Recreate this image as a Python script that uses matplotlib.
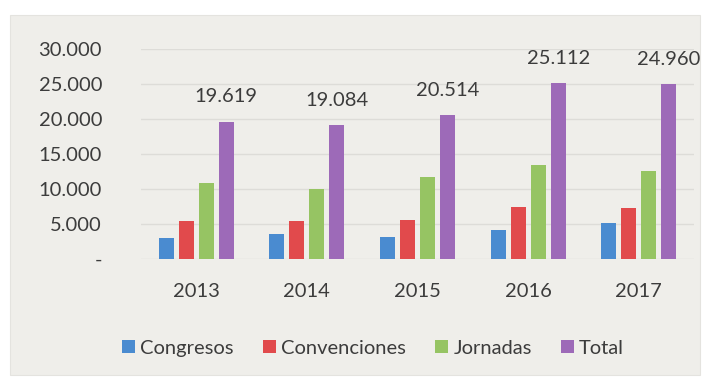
import numpy as np
import matplotlib.pyplot as plt
from matplotlib.patches import Rectangle

years = ['2013', '2014', '2015', '2016', '2017']
congresos = [2960, 3520, 3100, 4140, 5100]
convenciones = [5430, 5430, 5570, 7480, 7240]
jornadas = [10900, 10000, 11760, 13430, 12620]
total = [19619, 19084, 20514, 25112, 24960]
total_labels = ['19.619', '19.084', '20.514', '25.112', '24.960']
yticks = [0, 5000, 10000, 15000, 20000, 25000, 30000]
ytick_labels = ['-', '5.000', '10.000', '15.000', '20.000', '25.000', '30.000']

series = [congresos, convenciones, jornadas, total]
names = ['Congresos', 'Convenciones', 'Jornadas', 'Total']
colors = ['#4a8bd0', '#e14a4c', '#96c463', '#9d6ab8']

plt.rcParams['font.family'] = ['Lato', 'DejaVu Sans']
txt = '#3c3c3c'
bg = '#efeeea'
fs = 14.5

fig = plt.figure(figsize=(7.15, 3.83), dpi=100)
fig.patch.set_facecolor('white')

# panel behind the chart
back = fig.add_axes([0, 0, 1, 1], zorder=0)
back.axis('off')
back.add_patch(Rectangle((10 / 715, 8 / 383), 690 / 715, 360 / 383,
                         facecolor=bg, edgecolor='#e4e3df', lw=0.8))

ax = fig.add_axes([141 / 715, 1 - 259 / 383, 553 / 715, 210 / 383], zorder=1)
ax.patch.set_alpha(0)

x = np.arange(len(years))
w = 0.135
step = 0.181
for i, (vals, name, c) in enumerate(zip(series, names, colors)):
    ax.bar(x + (i - 1.5) * step, vals, width=w, color=c, label=name, zorder=3)

# value labels over the Total bars
for i, lab in enumerate(total_labels):
    ax.annotate(lab, (x[i] + 1.5 * step, total[i]), xytext=(0, 18),
                textcoords='offset points', ha='center', va='center',
                fontsize=fs, color=txt)

ax.set_xlim(-0.5, len(years) - 0.5)
ax.set_ylim(0, 30000)
ax.set_yticks(yticks)
ax.set_yticklabels(ytick_labels)
ax.set_xticks(x)
ax.set_xticklabels(years)
ax.grid(axis='y', color='#dddcd8', lw=1, zorder=0)
for s in ax.spines.values():
    s.set_visible(False)
ax.tick_params(length=0, labelsize=fs, labelcolor=txt)
ax.tick_params(axis='y', pad=28)
ax.tick_params(axis='x', pad=17)

leg = ax.legend(loc='center', bbox_to_anchor=(0.42, -0.424), ncol=4,
                frameon=False, fontsize=fs, handlelength=0.65,
                handleheight=0.65, handletextpad=0.25, columnspacing=1.45,
                borderpad=0)
for t in leg.get_texts():
    t.set_color(txt)

fig.savefig('out.png', dpi=100, facecolor=fig.get_facecolor())
